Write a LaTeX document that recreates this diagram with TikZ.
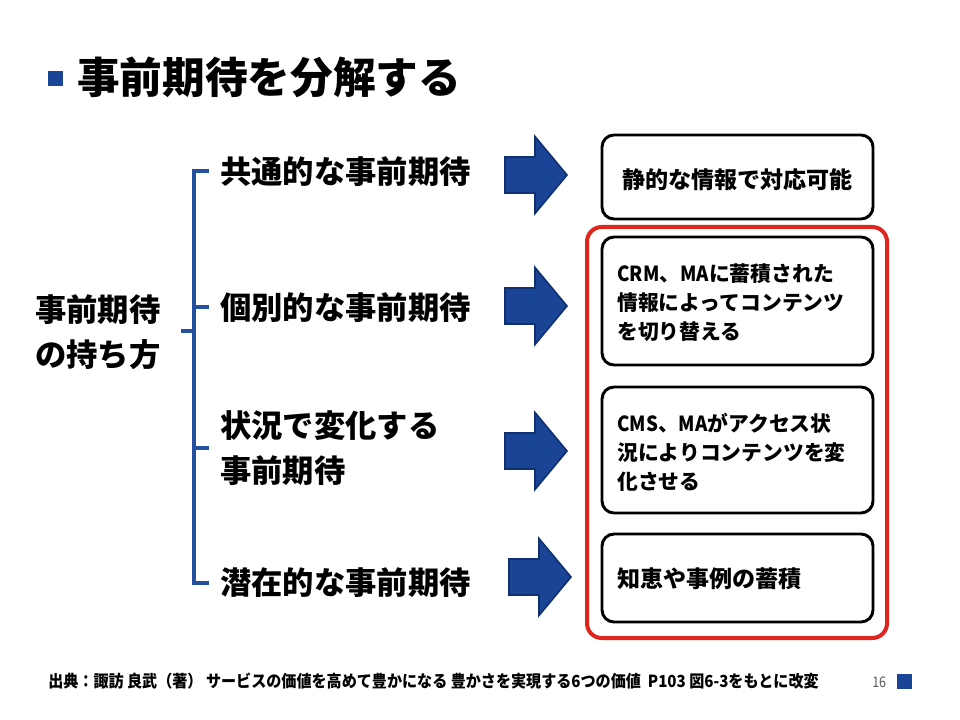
\documentclass[tikz,border=0pt]{standalone}
\usepackage{fontspec}
\setmainfont{Noto Sans CJK JP}
\definecolor{bblue}{HTML}{1A4496}
\definecolor{bdark}{HTML}{10306E}
\definecolor{lblue}{HTML}{2550A0}
\definecolor{rred}{HTML}{E0241E}
\newcommand{\nlat}[1]{\scalebox{0.9}[1]{#1}}
\tikzset{
  px/.style={x=0.75pt,y=-0.75pt},
  title/.style={font=\bfseries\fontsize{32pt}{38pt}\selectfont, anchor=west, inner sep=0},
  branch/.style={font=\bfseries\fontsize{23.5pt}{34pt}\selectfont, anchor=west, inner sep=0, align=left},
  boxtext/.style={font=\bfseries\fontsize{17.3pt}{21.75pt}\selectfont, inner sep=0, align=left},
  boxsmall/.style={font=\bfseries\fontsize{15.6pt}{21.75pt}\selectfont, inner sep=0, align=left, anchor=west},
  resbox/.style={draw=black, line width=2.2pt, rounded corners=9pt, fill=white},
  bigarrow/.style={draw=bdark, fill=bblue, line width=1.2pt, line join=miter},
  brk/.style={draw=lblue, line width=2.3pt},
  pics/blockarrow/.style={code={
    \path[bigarrow] (0,-18) -- (30,-18) -- (30,-38.5) -- (62,0) -- (30,38.5) -- (30,18) -- (0,18) -- cycle;
  }},
}
\begin{document}
\begin{tikzpicture}[px]
\useasboundingbox (0,0) rectangle (960,720);
\fill[white] (0,0) rectangle (960,720);
% title
\fill[bblue] (48,71) rectangle (63,86) coordinate (tsq);
\node[title] (title) at (77,77) {事前期待を分解する};
% left label
\node[branch] (hold) at (35,332) {事前期待\\の持ち方};
% bracket
\coordinate (bt) at (194,171);
\coordinate (bb) at (194,583);
\coordinate (bm) at (194,331);
\coordinate (bl) at (181,331);
\coordinate (t1) at (209,171);
\coordinate (t2) at (209,307);
\coordinate (t3) at (209,448);
\coordinate (t4) at (209,583);
\draw[brk] (t1) -- (bt) -- (bb) -- (t4);
\draw[brk] (bl) -- (bm);
\draw[brk] (194,307) -- (t2);
\draw[brk] (194,448) -- (t3);
% branch texts
\node[branch] (b1) at (220,172) {共通的な事前期待};
\node[branch] (b2) at (220,308) {個別的な事前期待};
\node[branch] (b3) at (220,448) {状況で変化する\\事前期待};
\node[branch] (b4) at (220,583) {潜在的な事前期待};
% arrows
\coordinate (a1) at (505,175);
\coordinate (a2) at (505,306);
\coordinate (a3) at (505,451);
\coordinate (a4) at (509,577);
\pic at (a1) {blockarrow};
\pic at (a2) {blockarrow};
\pic at (a3) {blockarrow};
\pic at (a4) {blockarrow};
% red frame
\draw[rred, line width=3pt, rounded corners=11pt] (587,227) rectangle (887,638);
% boxes
\draw[resbox] (602,135) rectangle (873,219);
\draw[resbox] (602,237) rectangle (873,365);
\draw[resbox] (602,387) rectangle (873,513);
\draw[resbox] (602,534) rectangle (873,622);
\node[boxtext] (r1) at (737.5,180) {静的な情報で対応可能};
\node[boxsmall] (r2) at (617,303) {\nlat{CRM}、\nlat{MA}に蓄積された\\情報によってコンテンツ\\を切り替える};
\node[boxsmall] (r3) at (617,452) {\nlat{CMS}、\nlat{MA}がアクセス状\\況によりコンテンツを変\\化させる};
\node[boxtext, anchor=west] (r4) at (617,579) {知恵や事例の蓄積};
% footer
\node[anchor=west, inner sep=0, font=\bfseries\fontsize{12.5pt}{14pt}\selectfont] (src) at (48,681)
  {\scalebox{0.905}[1]{出典：諏訪 良武（著） サービスの価値を高めて豊かになる 豊かさを実現する6つの価値\ \ P103 図6-3をもとに改変}};
\node[anchor=west, inner sep=0, text=black!65, font=\fontsize{11pt}{12pt}\selectfont] (pg) at (872,682) {\scalebox{0.85}[1]{16}};
\fill[bblue] (897,674) rectangle (912,689);
\end{tikzpicture}
\end{document}
